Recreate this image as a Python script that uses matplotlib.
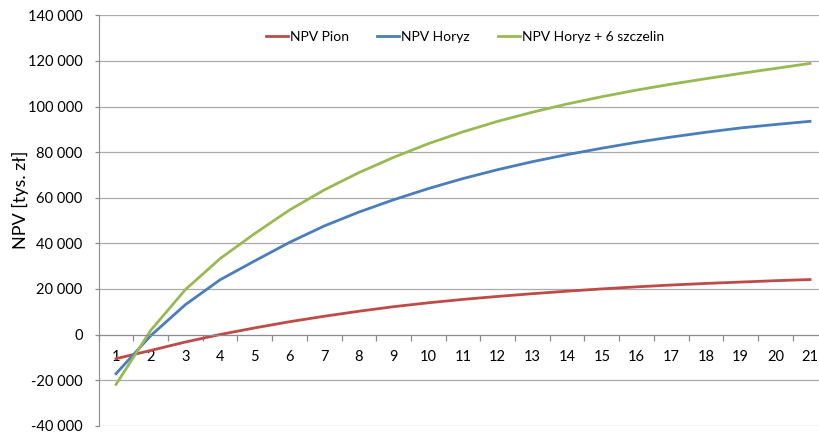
import matplotlib
matplotlib.use('Agg')
from matplotlib import pyplot as plt
from matplotlib.ticker import FuncFormatter, FixedLocator

plt.rcParams['font.family'] = ['Lato', 'DejaVu Sans']

lata = list(range(1, 22))
npv_pion = [-10600, -7000, -3300, 0, 2900, 5600, 8000, 10200, 12200, 13900, 15400,
            16700, 17900, 19000, 20000, 20900, 21700, 22400, 23000, 23600, 24100]
npv_horyz = [-17200, -500, 13100, 24000, 32300, 40400, 47600, 53700, 59100, 64000, 68400,
             72300, 75800, 78900, 81700, 84300, 86600, 88700, 90600, 92100, 93500]
npv_horyz_6 = [-21900, 1800, 19700, 33300, 44300, 54600, 63400, 71000, 77700, 83700, 88900,
               93500, 97500, 101100, 104300, 107200, 109800, 112200, 114500, 116700, 118900]

y_ticks = list(range(-40000, 140001, 20000))

fig = plt.figure(figsize=(8.2, 4.32), dpi=100)
ax = fig.add_axes([98.65 / 820, 6.3 / 432, 728.75 / 820, 410.4 / 432])

ax.plot(lata, npv_pion, color='#BE4B48', lw=2.0, label='NPV Pion')
ax.plot(lata, npv_horyz, color='#4A7EBB', lw=2.0, label='NPV Horyz')
ax.plot(lata, npv_horyz_6, color='#98B954', lw=2.0, label='NPV Horyz + 6 szczelin')

ax.set_xlim(0.5, 21.5)
ax.set_ylim(-40000, 140000)
ax.set_yticks(y_ticks)
ax.yaxis.set_major_formatter(FuncFormatter(lambda v, p: f'{v:,.0f}'.replace(',', ' ')))
ax.grid(axis='y', color='#ababab', lw=0.9)
ax.set_axisbelow(True)

# kategorie na osi X, kreski między kategoriami
ax.set_xticks(lata)
ax.set_xticklabels([str(x) for x in lata])
ax.xaxis.set_minor_locator(FixedLocator([x + 0.5 for x in range(0, 22)]))
ax.tick_params(axis='x', which='major', length=0, pad=11.5, labelsize=10.5)
ax.tick_params(axis='x', which='minor', length=4, width=0.9, color='#8c8c8c', direction='out')
ax.tick_params(axis='y', length=3, width=0.9, color='#8c8c8c', pad=8.5, labelsize=10.5)

ax.spines['bottom'].set_position(('data', 0))
ax.spines['bottom'].set_color('#8c8c8c')
ax.spines['left'].set_color('#8c8c8c')
ax.spines['top'].set_visible(False)
ax.spines['right'].set_visible(False)

fig.text(20 / 820, 1 - 200 / 432, 'NPV [tys. zł]', rotation=90, ha='center', va='center', fontsize=13)

ax.legend(loc='center', bbox_to_anchor=(0.503, 0.947), ncol=3, frameon=False, fontsize=10,
          handlelength=1.6, handletextpad=0.15, columnspacing=2.0)

fig.savefig('out.png', dpi=100)
